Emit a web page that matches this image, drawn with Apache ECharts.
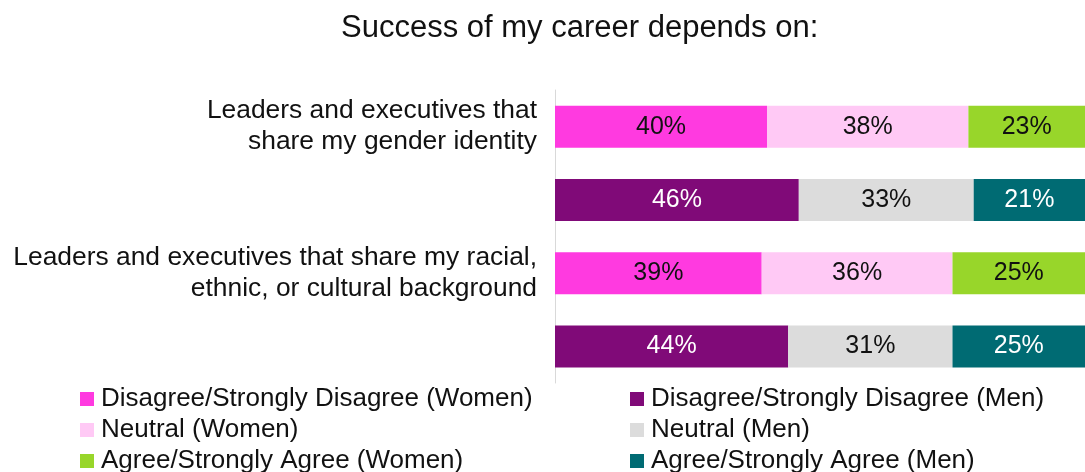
<!DOCTYPE html>
<html>
<head>
<meta charset="utf-8">
<script src="https://cdn.jsdelivr.net/npm/echarts@6/dist/echarts.min.js"></script>
<style>
  html, body { margin: 0; padding: 0; background: #fff; }
  #chart { width: 1085px; height: 472px; }
</style>
</head>
<body>
<div id="chart"></div>
<script>
// Survey statements (one women bar and one men bar each)
const statements = [
  'Leaders and executives that\nshare my gender identity',
  'Leaders and executives that share my racial,\nethnic, or cultural background'
];

// Percent of respondents per answer group, in statement order
const womenDisagree = [40, 39];
const womenNeutral  = [38, 36];
const womenAgree    = [23, 25];
const menDisagree   = [46, 44];
const menNeutral    = [33, 31];
const menAgree      = [21, 25];

const seriesNames = [
  'Disagree/Strongly Disagree (Women)',
  'Neutral (Women)',
  'Agree/Strongly Agree (Women)',
  'Disagree/Strongly Disagree (Men)',
  'Neutral (Men)',
  'Agree/Strongly Agree (Men)'
];

const FONT = '"Liberation Sans", Arial, Helvetica, sans-serif';

// Rows alternate: women bar, then men bar, for each statement
const rows = [];
statements.forEach((s, i) => { rows.push(s); rows.push('\u200b' + i); });

function womenRow(vals) {
  const out = [];
  vals.forEach(v => { out.push(v); out.push('-'); });
  return out;
}
function menRow(vals) {
  const out = [];
  vals.forEach(v => { out.push('-'); out.push(v); });
  return out;
}

function bar(name, data, color, labelColor) {
  return {
    name: name,
    type: 'bar',
    stack: 'total',
    barWidth: 42,
    data: data,
    itemStyle: { color: color },
    label: {
      show: true,
      position: 'inside',
      formatter: p => p.value + '%',
      color: labelColor,
      fontFamily: FONT,
      fontSize: 25
    },
    emphasis: { disabled: true }
  };
}

function legendBlock(left, names) {
  return {
    orient: 'vertical',
    left: left,
    top: 381,
    height: 100,
    itemWidth: 14,
    itemHeight: 14,
    itemGap: 5,
    icon: 'rect',
    selectedMode: false,
    data: names,
    textStyle: { fontFamily: FONT, fontSize: 26, lineHeight: 26, color: '#111', padding: [0, 0, 0, 2] }
  };
}

const chart = echarts.init(document.getElementById('chart'), null, { renderer: 'canvas' });
chart.setOption({
  animation: false,
  backgroundColor: '#ffffff',
  title: {
    text: 'Success of my career depends on:',
    left: 336,
    top: 8,
    textStyle: { fontFamily: FONT, fontSize: 31, fontWeight: 'normal', color: '#111' }
  },
  grid: { left: 555, right: -3, top: 90, bottom: 89, containLabel: false },
  xAxis: {
    type: 'value',
    min: 0,
    max: 100,
    show: false
  },
  yAxis: {
    type: 'category',
    inverse: true,
    data: rows,
    axisLine: { show: true, lineStyle: { color: '#d9d9d9', width: 1 } },
    axisTick: { show: false },
    axisLabel: {
      margin: 18,
      fontFamily: FONT,
      fontSize: 26.4,
      lineHeight: 31,
      color: '#111',
      align: 'right',
      formatter: v => (v.charAt(0) === '\u200b' ? '' : v)
    }
  },
  legend: [
    legendBlock(75, seriesNames.slice(0, 3)),
    legendBlock(625, seriesNames.slice(3))
  ],
  series: [
    bar(seriesNames[0], womenRow(womenDisagree), '#ff3ae0', '#111'),
    bar(seriesNames[1], womenRow(womenNeutral), '#ffc9f5', '#111'),
    bar(seriesNames[2], womenRow(womenAgree), '#98d62a', '#111'),
    bar(seriesNames[3], menRow(menDisagree), '#800a78', '#ffffff'),
    bar(seriesNames[4], menRow(menNeutral), '#dcdcdc', '#111'),
    bar(seriesNames[5], menRow(menAgree), '#006b73', '#ffffff')
  ]
});
</script>
</body>
</html>
